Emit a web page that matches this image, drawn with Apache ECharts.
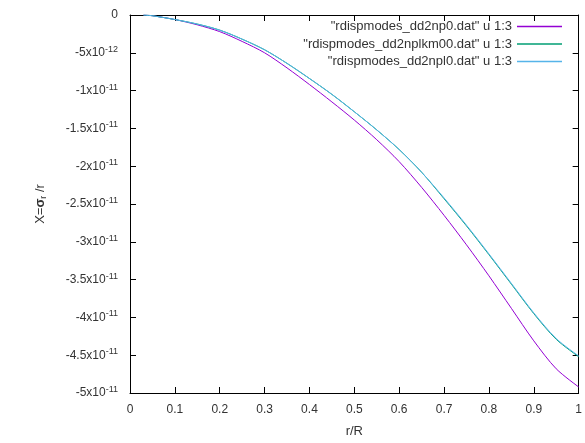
<!DOCTYPE html>
<html>
<head>
<meta charset="utf-8">
<script src="https://cdn.jsdelivr.net/npm/echarts@6/dist/echarts.min.js"></script>
<style>
  html, body { margin: 0; padding: 0; background: #fff; }
  #chart { width: 585px; height: 443px; }
</style>
</head>
<body>
<div id="chart"></div>
<script>
'use strict';

// r/R sample points
var rVals = [0.03, 0.05, 0.1, 0.15, 0.2, 0.25, 0.3, 0.35, 0.4, 0.45, 0.5,
             0.55, 0.6, 0.65, 0.7, 0.75, 0.8, 0.85, 0.9, 0.95, 1.0];
// values in units of 1e-11
var np0 = [0, -0.01, -0.06, -0.13, -0.22, -0.35, -0.50, -0.70, -0.92, -1.15, -1.39,
           -1.65, -1.94, -2.28, -2.65, -3.04, -3.45, -3.88, -4.31, -4.68, -4.92];
var nplkm00 = [0, -0.01, -0.06, -0.12, -0.20, -0.32, -0.46, -0.64, -0.84, -1.05, -1.28,
               -1.52, -1.78, -2.08, -2.43, -2.79, -3.17, -3.56, -3.95, -4.29, -4.52];
var npl0 = [0, -0.01, -0.06, -0.12, -0.20, -0.32, -0.46, -0.64, -0.84, -1.05, -1.28,
            -1.52, -1.78, -2.08, -2.42, -2.78, -3.16, -3.55, -3.94, -4.28, -4.51];

var names = ['"rdispmodes_dd2np0.dat" u 1:3',
             '"rdispmodes_dd2nplkm00.dat" u 1:3',
             '"rdispmodes_dd2npl0.dat" u 1:3'];
var colors = ['#9400d3', '#009e73', '#56b4e9'];
var values = [np0, nplkm00, npl0];

var FONT = 'Liberation Sans';
var TXT = '#333333';

function yLabel(v){
  if (Math.abs(v) < 1e-9) return '0';
  if (Math.abs(v + 0.5) < 1e-9) return '-5x10{sup|-12}';
  var m = Math.round(v * 100) / 100;
  return m + 'x10{sup|-11}';
}

var chart = echarts.init(document.getElementById('chart'));

var tickStyle = { show: true, inside: true, length: 6, lineStyle: { color: '#000', width: 1 } };
var lineStyle = { show: true, onZero: false, lineStyle: { color: '#000', width: 1 } };

var option = {
  animation: false,
  color: colors,
  grid: { left: 130, right: 5, top: 15, bottom: 50 },
  legend: names.map(function(n, i){
    return {
      data: [n],
      right: 23,
      top: 20 + i * 17.5,
      padding: 0,
      align: 'right',
      icon: 'rect',
      itemWidth: 45,
      itemHeight: 1.5,
      selectedMode: false,
      textStyle: { fontFamily: FONT, fontSize: 13, color: TXT }
    };
  }),
  xAxis: [{
    type: 'value',
    min: 0, max: 1, interval: 0.1,
    name: 'r/R',
    nameLocation: 'middle',
    nameGap: 32,
    nameTextStyle: { fontFamily: FONT, fontSize: 13, color: TXT },
    axisLine: lineStyle,
    axisTick: tickStyle,
    splitLine: { show: false },
    axisLabel: {
      margin: 11,
      fontFamily: FONT, fontSize: 12, color: TXT,
      formatter: function(v){ return String(Math.round(v * 10) / 10); }
    }
  }, {
    type: 'value',
    position: 'top',
    min: 0, max: 1, interval: 0.1,
    axisLine: lineStyle,
    axisTick: tickStyle,
    axisLabel: { show: false },
    splitLine: { show: false }
  }],
  yAxis: [{
    type: 'value',
    min: -5, max: 0, interval: 0.5,
    name: 'X={b|σ}{sub|r} /r',
    nameLocation: 'middle',
    nameRotate: 90,
    nameGap: 82,
    nameTextStyle: {
      fontFamily: FONT, fontSize: 13, color: TXT,
      rich: {
        b: { fontFamily: FONT, fontSize: 13, fontWeight: 'bold', color: TXT },
        sub: { fontFamily: FONT, fontSize: 9, color: TXT, padding: [6, 0, 0, 0] }
      }
    },
    axisLine: lineStyle,
    axisTick: tickStyle,
    splitLine: { show: false },
    axisLabel: {
      margin: 12,
      fontFamily: FONT, fontSize: 12, color: TXT,
      formatter: yLabel,
      rich: {
        sup: { fontFamily: FONT, fontSize: 9, color: TXT, padding: [0, 0, 7, 0] }
      }
    }
  }, {
    type: 'value',
    position: 'right',
    min: -5, max: 0, interval: 0.5,
    axisLine: lineStyle,
    axisTick: tickStyle,
    axisLabel: { show: false },
    splitLine: { show: false }
  }],
  series: values.map(function(vals, i){
    return {
      name: names[i],
      type: 'line',
      showSymbol: false,
      smooth: 0.3,
      lineStyle: { width: 1, color: colors[i] },
      data: rVals.map(function(r, k){ return [r, vals[k]]; })
    };
  })
};

chart.setOption(option);
</script>
</body>
</html>
